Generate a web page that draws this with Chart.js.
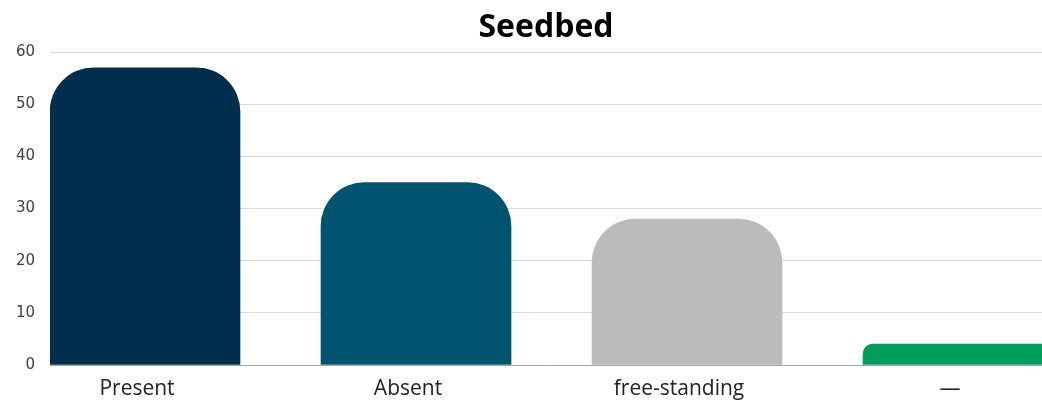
<!DOCTYPE html>
<html>
<head>
<meta charset="utf-8">
<script src="https://cdn.jsdelivr.net/npm/chart.js@4"></script>
<style>
  html, body { margin: 0; padding: 0; background: #fff; overflow: hidden; }
  #wrap { width: 1042px; height: 403px; }
</style>
</head>
<body>
<div id="wrap"><canvas id="seedbed-chart"></canvas></div>
<script>
var categories = ["Present", "Absent", "free-standing", "—"];
var counts = [57, 35, 28, 4];
var barColors = ["#022E4E", "#00536F", "#BCBBBA", "#009E5A"];
var yTicks = [0, 10, 20, 30, 40, 50, 60];

new Chart("seedbed-chart", {
  type: "bar",
  data: {
    datasets: [{
      data: counts.map(function (v, i) { return { x: i, y: v }; }),
      backgroundColor: barColors,
      borderSkipped: "bottom",
      borderRadius: { topLeft: 44, topRight: 44 },
      barThickness: 190
    }]
  },
  options: {
    responsive: true,
    maintainAspectRatio: false,
    animation: false,
    layout: { padding: 0 },
    plugins: {
      legend: { display: false },
      tooltip: { enabled: false },
      title: {
        display: true,
        text: "Seedbed",
        fullSize: false,
        color: "#000",
        font: { family: "'Open Sans', 'Noto Sans', sans-serif", size: 32, weight: "bold", lineHeight: 1.1 },
        padding: { top: 10, bottom: 7 }
      }
    },
    scales: {
      x: {
        type: "linear",
        offset: false,
        min: -0.3506,
        max: 3.31,
        afterBuildTicks: function (scale) {
          scale.ticks = categories.map(function (c, i) { return { value: i }; });
        },
        afterFit: function (scale) { scale.height = 38; },
        ticks: {
          callback: function (value) { return categories[value]; },
          color: "#222",
          padding: 11,
          labelOffset: -8,
          font: { family: "'Open Sans', 'Noto Sans', sans-serif", size: 21 },
          maxRotation: 0,
          autoSkip: false
        },
        grid: { display: false, drawTicks: false, offset: false },
        border: { display: true, color: "#A6A6A6", width: 1 }
      },
      y: {
        min: 0,
        max: 60,
        afterBuildTicks: function (scale) {
          scale.ticks = yTicks.map(function (v) { return { value: v }; });
        },
        afterFit: function (scale) { scale.width = 50; },
        ticks: {
          color: "#404040",
          padding: 15,
          font: { family: "'DejaVu Sans', sans-serif", size: 15 }
        },
        grid: { color: "#D9D9D9", drawTicks: false, lineWidth: 1 },
        border: { display: false }
      }
    }
  }
});
</script>
</body>
</html>
